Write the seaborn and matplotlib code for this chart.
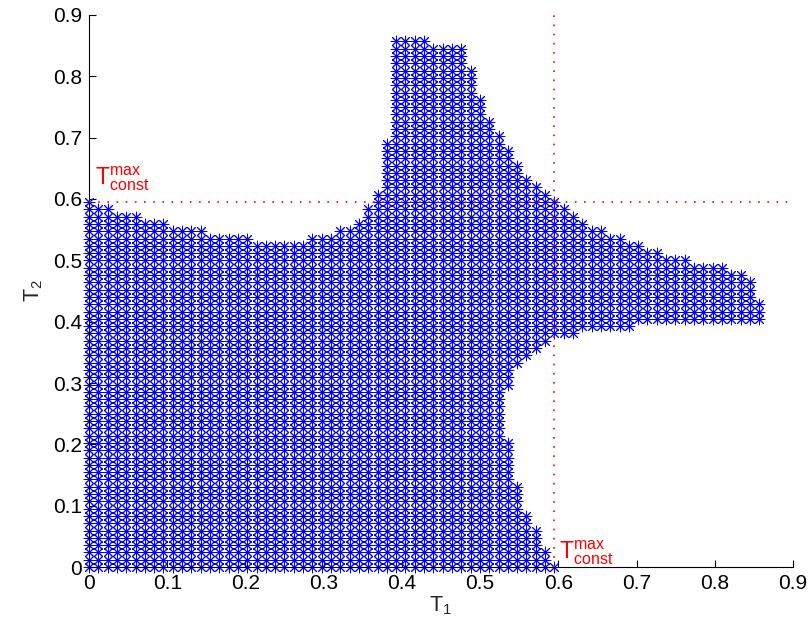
import numpy as np
import pandas as pd
import matplotlib
matplotlib.use('Agg')
import matplotlib.pyplot as plt
import seaborn as sns
from matplotlib.ticker import FormatStrFormatter

# Seuil T_const^max et grille des seuils (pas = t_const / 50, indices 0..72)
t_const = 0.595
n_const = 50
n_grid = 73

# Indice T2 le plus haut atteint pour chaque colonne T1 (indice 0..72)
col_top = [50, 49, 49, 48, 48, 48, 47, 47, 47, 46, 46, 46, 46,
           45, 45, 45, 45, 45, 44, 44, 44, 44, 44, 44, 45, 45, 45,
           46, 46, 47, 49, 51, 58, 72, 72, 72, 72, 71, 71, 71, 71,
           68, 64, 61, 59, 57, 55, 53, 52, 51, 50, 49, 48, 47,
           46, 46, 45, 45, 44, 44, 43, 43, 42, 42, 42,
           41, 41, 41, 41, 40, 40, 39, 36]

# Indice T1 le plus à droite pour chaque ligne T2 (indices 0..33), au-dessus : 72
row_right = [50, 49, 49, 48, 48, 48, 47, 47, 46, 46, 46, 46,
             45, 45, 45, 45, 45, 45, 44, 44, 44, 44, 44, 44, 44,
             45, 45, 45, 46, 47, 48, 49, 52, 58]

x_ticks = [0, 0.1, 0.2, 0.3, 0.4, 0.5, 0.6, 0.7, 0.8, 0.9]
y_ticks = [0, 0.1, 0.2, 0.3, 0.4, 0.5, 0.6, 0.7, 0.8, 0.9]

# Construction des points de la région admissible
step = t_const / n_const
row_max = row_right + [n_grid - 1] * (n_grid - len(row_right))
pts = []
for i in range(n_grid):
    for j in range(n_grid):
        if j <= col_top[i] and i <= row_max[j]:
            pts.append((i * step, j * step))
df = pd.DataFrame(pts, columns=['T1', 'T2'])

sns.set_style('ticks')
plt.rcParams['font.family'] = ['Liberation Sans', 'DejaVu Sans']
plt.rcParams['mathtext.default'] = 'regular'

fig = plt.figure(figsize=(8.11, 6.32), dpi=100)
ax = fig.add_axes([0.1097, 0.1028, 0.8681, 0.8735])

sns.scatterplot(data=df, x='T1', y='T2', marker=(8, 2, 0), s=60, color='blue',
                linewidth=0.7, clip_on=False, legend=False, ax=ax, zorder=2)

# Lignes pointillées rouges du seuil constant
ax.plot([t_const, t_const], [0, 0.9], color='red', lw=1.2, dashes=(1, 4.5), zorder=3)
ax.plot([0, 0.9], [t_const, t_const], color='red', lw=1.2, dashes=(1, 4.5), zorder=3)
ax.text(0.008, 0.609, r'$T^{max}_{const}$', color='red', fontsize=16.5, ha='left', va='bottom')
ax.text(0.601, 0.0, r'$T^{max}_{const}$', color='red', fontsize=16.5, ha='left', va='bottom')

ax.set_xlim(0, 0.9)
ax.set_ylim(0, 0.9)
ax.set_xticks(x_ticks)
ax.set_yticks(y_ticks)
ax.xaxis.set_major_formatter(FormatStrFormatter('%g'))
ax.yaxis.set_major_formatter(FormatStrFormatter('%g'))
ax.tick_params(direction='in', length=5, width=0.8, labelsize=15, pad=5, colors='black')
ax.set_xlabel(r'$T_1$', fontsize=15.5, labelpad=1)
ax.set_ylabel(r'$T_2$', fontsize=15.5, labelpad=6)
for side in ['top', 'right']:
    ax.spines[side].set_visible(False)
for side in ['left', 'bottom']:
    ax.spines[side].set_linewidth(0.8)
    ax.spines[side].set_color('black')

fig.savefig('out.png', dpi=100)
